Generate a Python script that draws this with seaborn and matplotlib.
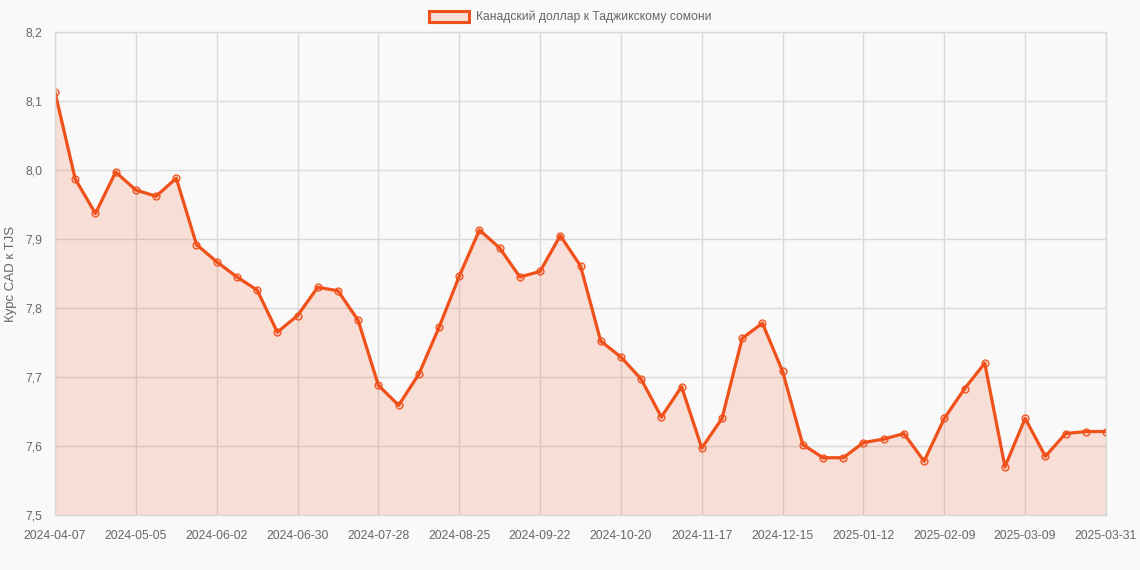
import matplotlib
matplotlib.use("Agg")
import matplotlib.pyplot as plt
import matplotlib.ticker as mticker
from matplotlib.patches import Patch
import seaborn as sns
import pandas as pd
import numpy as np

# Weekly dates, last point is 2025-03-31
dates = [d.strftime("%Y-%m-%d") for d in pd.date_range("2024-04-07", periods=52, freq="7D")]
dates.append("2025-03-31")

rates = [
    8.113, 7.987, 7.937, 7.997, 7.971, 7.962, 7.988, 7.892, 7.867, 7.845,
    7.826, 7.765, 7.789, 7.830, 7.825, 7.782, 7.688, 7.659, 7.704, 7.772,
    7.846, 7.913, 7.887, 7.845, 7.853, 7.905, 7.861, 7.752, 7.729, 7.697,
    7.642, 7.686, 7.597, 7.640, 7.756, 7.778, 7.708, 7.602, 7.583, 7.583,
    7.605, 7.610, 7.618, 7.578, 7.640, 7.683, 7.720, 7.570, 7.640, 7.585,
    7.618, 7.621, 7.621,
]

series_label = "Канадский доллар к Таджикскому сомони"
y_label = "Курс CAD к TJS"

LINE = "#F0501A"
BG = "#F9F9F9"
GRID = "#D9D9D9"
TEXT = "#666666"

sns.set_theme(style="whitegrid")
plt.rcParams["font.family"] = ["Liberation Sans", "DejaVu Sans"]

df = pd.DataFrame({"idx": np.arange(len(rates)), "date": dates, "rate": rates})

fig = plt.figure(figsize=(11.4, 5.7), dpi=100, facecolor=BG)
ax = fig.add_axes([55 / 1140, 1 - 515 / 570, (1106 - 55) / 1140, (515 - 32) / 570])
ax.set_facecolor(BG)

ax.fill_between(df["idx"], df["rate"], 7.5, color=LINE, alpha=0.15, linewidth=0)
sns.lineplot(data=df, x="idx", y="rate", ax=ax, color=LINE, linewidth=2.3,
             marker="o", markersize=5, markerfacecolor=(0.94, 0.31, 0.10, 0.2),
             markeredgecolor=LINE, markeredgewidth=0.9)

ax.set_xlim(0, len(rates) - 1)
ax.set_ylim(7.5, 8.2)

tick_pos = list(range(0, len(rates) - 1, 4))
if tick_pos[-1] != len(rates) - 1:
    tick_pos.append(len(rates) - 1)
ax.set_xticks(tick_pos)
ax.set_xticklabels([dates[i] for i in tick_pos])
ax.yaxis.set_major_locator(mticker.MultipleLocator(0.1))
ax.yaxis.set_major_formatter(mticker.FuncFormatter(lambda v, p: f"{v:.1f}".replace(".", ",")))

ax.grid(True, color=GRID, linewidth=1)
for s in ax.spines.values():
    s.set_color(GRID)
    s.set_linewidth(1)
ax.tick_params(axis="both", length=7, color=GRID, labelsize=8.7, labelcolor=TEXT)
ax.tick_params(axis="x", pad=4)
ax.tick_params(axis="y", pad=2)

ax.set_xlabel("")
ax.set_ylabel(y_label, fontsize=9.5, color=TEXT, labelpad=6)

handle = Patch(facecolor=(0.94, 0.31, 0.10, 0.15), edgecolor=LINE, linewidth=2.2)
fig.legend([handle], [series_label], loc="upper center", bbox_to_anchor=(0.5, 1.0),
           frameon=False, fontsize=8.7, labelcolor=TEXT, handlelength=3.3,
           handleheight=1.0, handletextpad=0.6, borderaxespad=0.5)

fig.savefig("out.png", dpi=100, facecolor=BG)
